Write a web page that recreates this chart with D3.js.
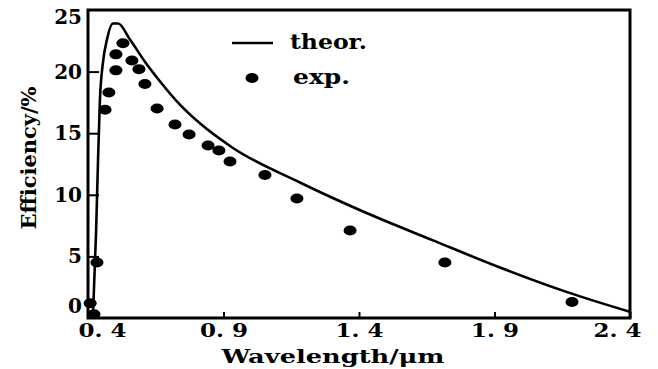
<!DOCTYPE html>
<html>
<head>
<meta charset="utf-8">
<script src="https://cdn.jsdelivr.net/npm/d3@7"></script>
<style>
    body { margin: 0; background: #fff; }
    svg text { font-family: "DejaVu Serif", serif; font-weight: bold; fill: #000; }
</style>
</head>
<body>
<div id="chart"></div>
<script>
// theoretical curve, wavelength (um) / efficiency (%)
const theorX = [0.418, 0.430, 0.437, 0.444, 0.455, 0.470, 0.492, 0.511, 0.555, 0.610, 0.666, 0.740, 0.813, 0.935, 1.182, 1.430, 1.673, 1.920, 2.168, 2.400];
const theorY = [0, 7.1, 12.8, 17.7, 20.7, 22.6, 23.9, 23.9, 22.6, 20.8, 19.2, 17.3, 15.8, 13.8, 11.0, 8.5, 6.3, 4.1, 2.1, 0.5];

// measured points
const expX = [0.408, 0.422, 0.433, 0.463, 0.477, 0.503, 0.503, 0.529, 0.562, 0.588, 0.610, 0.655, 0.721, 0.773, 0.843, 0.883, 0.924, 1.053, 1.171, 1.367, 1.717, 2.186];
const expY = [1.2, 0.3, 4.5, 16.9, 18.3, 20.1, 21.4, 22.3, 20.9, 20.2, 19.0, 17.0, 15.7, 14.9, 14.0, 13.6, 12.7, 11.6, 9.7, 7.1, 4.5, 1.3];

const xTicks = [0.4, 0.9, 1.4, 1.9, 2.4];
const xTickLabels = ["0. 4", "0. 9", "1. 4", "1. 9", "2. 4"];
const yTicks = [0, 5, 10, 15, 20, 25];

const width = 658, height = 369;
const margin = {top: 10, right: 28, bottom: 51, left: 88};

const svg = d3.select("#chart").append("svg")
    .attr("width", width)
    .attr("height", height);

const x = d3.scaleLinear().domain([0.4, 2.4]).range([margin.left, width - margin.right]);
const y = d3.scaleLinear().domain([0, 25]).range([height - margin.bottom, margin.top]);

// x axis, ticks pointing inward
const xAxis = svg.append("g")
    .attr("transform", "translate(0," + y(0) + ")")
    .call(d3.axisBottom(x).tickValues(xTicks).tickSizeInner(-6).tickSizeOuter(0).tickPadding(6)
        .tickFormat((d, i) => xTickLabels[i]));
xAxis.select(".domain").remove();
xAxis.selectAll(".tick line").attr("stroke", "#000").attr("stroke-width", 2);
xAxis.selectAll(".tick text").attr("font-size", 19).attr("dy", "0.71em")
    .attr("textLength", 48).attr("lengthAdjust", "spacingAndGlyphs")
    .attr("dx", d => d === 0.4 ? 14 : (d === 2.4 ? -13 : 0))
    .style("font-family", "DejaVu Serif");

// y axis
const yAxis = svg.append("g")
    .attr("transform", "translate(" + x(0.4) + ",0)")
    .call(d3.axisLeft(y).tickValues(yTicks).tickSizeInner(-11).tickSizeOuter(0).tickPadding(6));
yAxis.select(".domain").remove();
yAxis.selectAll(".tick line").attr("stroke", "#000").attr("stroke-width", 2)
    .filter(d => d === 0 || d === 25).remove();
yAxis.selectAll(".tick text").attr("font-size", 20).style("font-family", "DejaVu Serif")
    .attr("dy", d => d === 0 ? "-0.3em" : (d === 25 ? "0.65em" : "0.32em"));

// frame
svg.append("rect")
    .attr("x", x(0.4)).attr("y", y(25))
    .attr("width", x(2.4) - x(0.4)).attr("height", y(0) - y(25))
    .attr("fill", "none").attr("stroke", "#000").attr("stroke-width", 3);

// theory line
const line = d3.line().curve(d3.curveMonotoneX)
    .x(d => x(d[0])).y(d => y(d[1]));
svg.append("path")
    .datum(theorX.map((d, i) => [d, theorY[i]]))
    .attr("fill", "none").attr("stroke", "#000").attr("stroke-width", 2.6)
    .attr("d", line);

// experimental points
svg.append("g").selectAll("ellipse")
    .data(expX.map((d, i) => [d, expY[i]]))
    .join("ellipse")
    .attr("cx", d => x(d[0])).attr("cy", d => y(d[1]))
    .attr("rx", 6.5).attr("ry", 5)
    .attr("fill", "#000");

// legend
const legend = svg.append("g");
legend.append("line")
    .attr("x1", 232).attr("x2", 273).attr("y1", 43).attr("y2", 43)
    .attr("stroke", "#000").attr("stroke-width", 2.6);
legend.append("text").attr("x", 290).attr("y", 49).attr("font-size", 21)
    .attr("textLength", 77).attr("lengthAdjust", "spacingAndGlyphs").text("theor.");
legend.append("ellipse").attr("cx", 252).attr("cy", 78).attr("rx", 6.5).attr("ry", 5).attr("fill", "#000");
legend.append("text").attr("x", 293).attr("y", 84).attr("font-size", 21)
    .attr("textLength", 57).attr("lengthAdjust", "spacingAndGlyphs").text("exp.");

// axis titles
svg.append("text")
    .attr("x", 333).attr("y", 363)
    .attr("text-anchor", "middle").attr("font-size", 19)
    .attr("textLength", 223).attr("lengthAdjust", "spacingAndGlyphs")
    .text("Wavelength/μm");

svg.append("text")
    .attr("transform", "translate(36,158) rotate(-90)")
    .attr("text-anchor", "middle").attr("font-size", 21)
    .attr("textLength", 143).attr("lengthAdjust", "spacingAndGlyphs")
    .text("Efficiency/%");
</script>
</body>
</html>
